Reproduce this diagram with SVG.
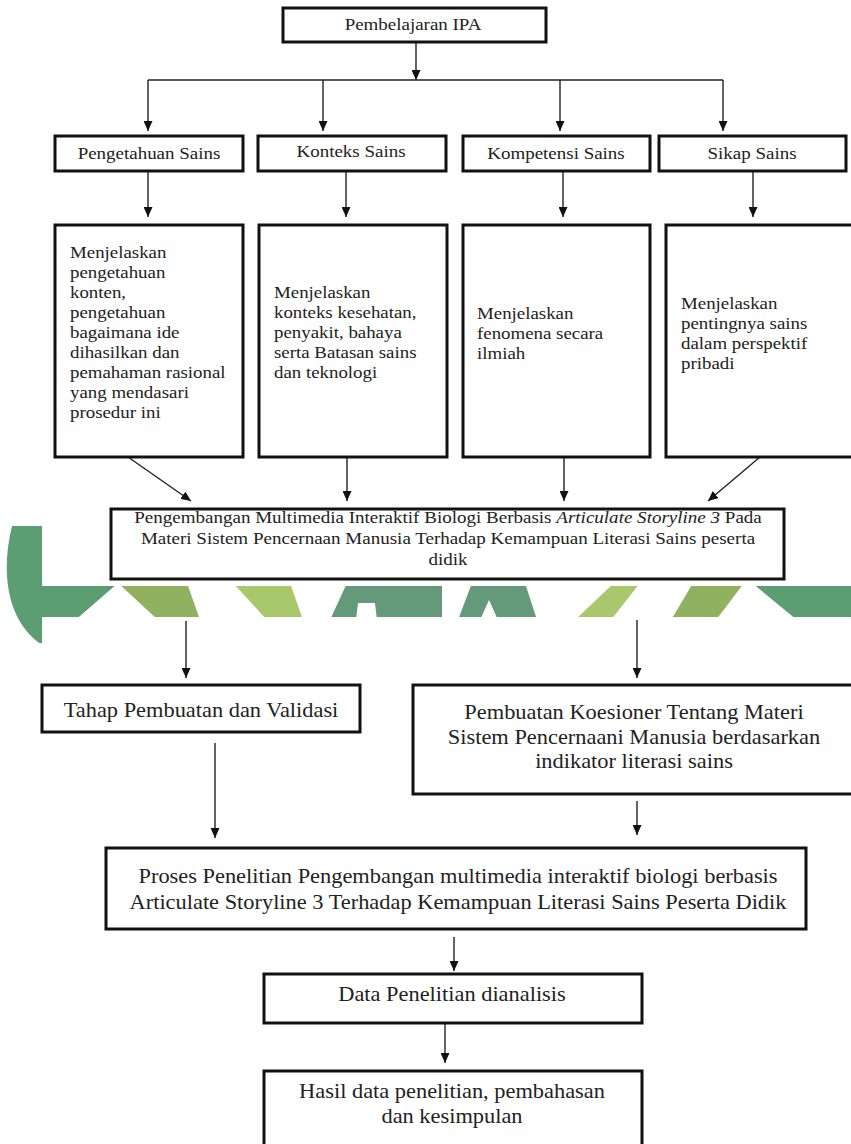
<svg xmlns="http://www.w3.org/2000/svg" width="851" height="1144" viewBox="0 0 851 1144">
<defs>
<marker id="ah" markerUnits="userSpaceOnUse" markerWidth="10" markerHeight="9" refX="10" refY="4.5" orient="auto"><path d="M0,0 L10,4.5 L0,9 Z" fill="#111"/></marker>
<clipPath id="wm"><rect x="0" y="586" width="851" height="31"/><rect x="0" y="525" width="42" height="118"/></clipPath>
</defs>
<style>
.box{fill:#fff;stroke:#111;stroke-width:3}
.ln{fill:none;stroke:#222;stroke-width:1.4;marker-end:url(#ah)}
.ln0{fill:none;stroke:#222;stroke-width:1.4}
.t{font-family:"Liberation Serif","Times New Roman",serif;fill:#222}
.h{font-size:16.5px;text-anchor:middle}
.d{font-size:16px}
.c{font-size:17px;text-anchor:middle}
.l{font-size:20px;text-anchor:middle}
.dk{fill:#5c9d72}
.gr{fill:#64997a}
.ol{fill:#8fb160}
.lt{fill:#a8c86b}
</style>
<rect width="851" height="1144" fill="#fff"/>
<g id="watermark" clip-path="url(#wm)">
<path class="dk" d="M12,526 C0,575 8,622 42,645 L80,616 L118,583 L43,583 L43,526 Z"/>
<polygon class="ol" points="118,583 187,583 200,620 158,620"/>
<polygon class="lt" points="233,583 290,583 303,620 267,620"/>
<path class="gr" fill-rule="evenodd" d="M347,583 L442,583 L442,620 L330,620 Z M358,603 L375,603 L377,620 L356,620 Z"/>
<path class="gr" fill-rule="evenodd" d="M472,583 L525,583 L537,620 L458,620 Z M480,620 L489,600 L498,620 Z"/>
<polygon class="lt" points="614,583 640,583 611,620 575,620"/>
<polygon class="ol" points="693,583 744,583 716,620 671,620"/>
<polygon class="dk" points="752,583 851,583 851,620 797,620"/>
</g>
<g id="connectors">
<line class="ln" x1="416" y1="42" x2="416" y2="80"/>
<line class="ln0" x1="148" y1="80" x2="723" y2="80"/>
<line class="ln" x1="148" y1="80" x2="148" y2="131"/>
<line class="ln" x1="323" y1="80" x2="323" y2="131"/>
<line class="ln" x1="560" y1="80" x2="560" y2="131"/>
<line class="ln" x1="723" y1="80" x2="723" y2="131"/>
<line class="ln" x1="148" y1="171" x2="148" y2="217"/>
<line class="ln" x1="346" y1="171" x2="346" y2="217"/>
<line class="ln" x1="563" y1="171" x2="563" y2="217"/>
<line class="ln" x1="753" y1="171" x2="753" y2="217"/>
<line class="ln" x1="128" y1="457" x2="191" y2="501"/>
<line class="ln" x1="347" y1="457" x2="347" y2="501"/>
<line class="ln" x1="564" y1="457" x2="564" y2="501"/>
<line class="ln" x1="760" y1="457" x2="708" y2="501"/>
<line class="ln" x1="186" y1="621" x2="186" y2="678"/>
<line class="ln" x1="637" y1="620" x2="637" y2="678"/>
<line class="ln" x1="215" y1="743" x2="215" y2="838"/>
<line class="ln" x1="637" y1="801" x2="637" y2="835"/>
<line class="ln" x1="454" y1="937" x2="454" y2="971"/>
<line class="ln" x1="445" y1="1024" x2="445" y2="1063"/>
</g>
<g id="n-pembelajaran">
<rect class="box" x="283" y="8" width="263" height="34"/>
<text class="t h" transform="translate(413,30) scale(1.15,1)" x="0" y="0">Pembelajaran IPA</text>
</g>
<g id="n-pengetahuan">
<rect class="box" x="55" y="136" width="188" height="35"/>
<text class="t h" transform="translate(149,159) scale(1.15,1)" x="0" y="0">Pengetahuan Sains</text>
</g>
<g id="n-konteks">
<rect class="box" x="258" y="136" width="188" height="35"/>
<text class="t h" transform="translate(351,157) scale(1.15,1)" x="0" y="0">Konteks Sains</text>
</g>
<g id="n-kompetensi">
<rect class="box" x="463" y="136" width="187" height="35"/>
<text class="t h" transform="translate(556,159) scale(1.15,1)" x="0" y="0">Kompetensi Sains</text>
</g>
<g id="n-sikap">
<rect class="box" x="659" y="136" width="187" height="35"/>
<text class="t h" transform="translate(752,159) scale(1.15,1)" x="0" y="0">Sikap Sains</text>
</g>
<g id="n-desc1">
<rect class="box" x="55" y="225" width="188" height="232"/>
<text class="t d" transform="translate(70,258) scale(1.18,1)"><tspan x="0" y="0">Menjelaskan</tspan><tspan x="0" y="20">pengetahuan</tspan><tspan x="0" y="40">konten,</tspan><tspan x="0" y="60">pengetahuan</tspan><tspan x="0" y="80">bagaimana ide</tspan><tspan x="0" y="100">dihasilkan dan</tspan><tspan x="0" y="120">pemahaman rasional</tspan><tspan x="0" y="140">yang mendasari</tspan><tspan x="0" y="160">prosedur ini</tspan></text>
</g>
<g id="n-desc2">
<rect class="box" x="259" y="225" width="188" height="232"/>
<text class="t d" transform="translate(274,298) scale(1.18,1)"><tspan x="0" y="0">Menjelaskan</tspan><tspan x="0" y="20">konteks kesehatan,</tspan><tspan x="0" y="40">penyakit, bahaya</tspan><tspan x="0" y="60">serta Batasan sains</tspan><tspan x="0" y="80">dan teknologi</tspan></text>
</g>
<g id="n-desc3">
<rect class="box" x="463" y="225" width="187" height="232"/>
<text class="t d" transform="translate(477,319) scale(1.18,1)"><tspan x="0" y="0">Menjelaskan</tspan><tspan x="0" y="20">fenomena secara</tspan><tspan x="0" y="40">ilmiah</tspan></text>
</g>
<g id="n-desc4">
<rect class="box" x="666" y="225" width="190" height="232"/>
<text class="t d" transform="translate(681,309) scale(1.18,1)"><tspan x="0" y="0">Menjelaskan</tspan><tspan x="0" y="20">pentingnya sains</tspan><tspan x="0" y="40">dalam perspektif</tspan><tspan x="0" y="60">pribadi</tspan></text>
</g>
<g id="n-pengembangan">
<rect class="box" x="111" y="509" width="673" height="70"/>
<text class="t c" transform="translate(448,523) scale(1.12,1)"><tspan x="0" y="0">Pengembangan Multimedia Interaktif Biologi Berbasis <tspan font-style="italic">Articulate Storyline 3</tspan> Pada</tspan><tspan x="0" y="21">Materi Sistem Pencernaan Manusia Terhadap Kemampuan Literasi Sains peserta</tspan><tspan x="0" y="42">didik</tspan></text>
</g>
<g id="n-tahap">
<rect class="box" x="42" y="685" width="318" height="47"/>
<text class="t l" transform="translate(201,717) scale(1.12,1)" x="0" y="0">Tahap Pembuatan dan Validasi</text>
</g>
<g id="n-koesioner">
<rect class="box" x="413" y="685" width="442" height="109"/>
<text class="t l" transform="translate(634,719) scale(1.12,1)"><tspan x="0" y="0">Pembuatan Koesioner Tentang Materi</tspan><tspan x="0" y="25">Sistem Pencernaani Manusia berdasarkan</tspan><tspan x="0" y="49">indikator literasi sains</tspan></text>
</g>
<g id="n-proses">
<rect class="box" x="106" y="848" width="700" height="81"/>
<text class="t l" transform="translate(458,883) scale(1.12,1)"><tspan x="0" y="0">Proses Penelitian Pengembangan multimedia interaktif biologi berbasis</tspan><tspan x="0" y="26">Articulate Storyline 3 Terhadap Kemampuan Literasi Sains Peserta Didik</tspan></text>
</g>
<g id="n-data">
<rect class="box" x="264" y="974" width="378" height="49"/>
<text class="t l" transform="translate(452,1001) scale(1.12,1)" x="0" y="0">Data Penelitian dianalisis</text>
</g>
<g id="n-hasil">
<rect class="box" x="264" y="1071" width="378" height="100"/>
<text class="t l" transform="translate(452,1098) scale(1.12,1)"><tspan x="0" y="0">Hasil data penelitian, pembahasan</tspan><tspan x="0" y="25">dan kesimpulan</tspan></text>
</g>
</svg>
